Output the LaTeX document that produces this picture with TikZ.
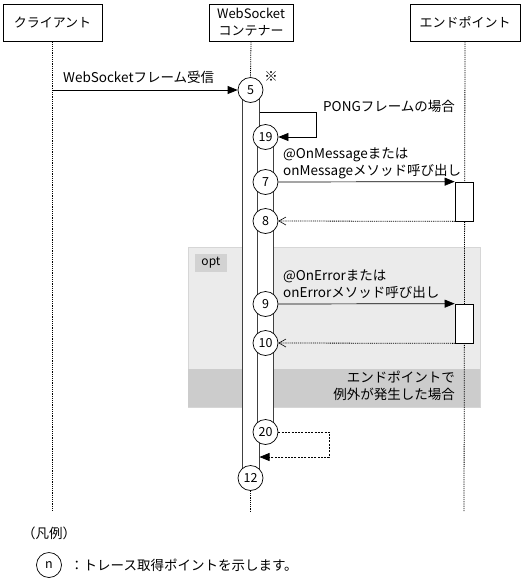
\documentclass[tikz,border=0pt]{standalone}
\usepackage{fontspec}
\setmainfont{Noto Sans CJK JP}
\usetikzlibrary{arrows.meta,calc}
\definecolor{optfill}{HTML}{EBEBEB}
\definecolor{optline}{HTML}{D6D6D6}
\definecolor{bandfill}{HTML}{CCCCCC}
\definecolor{optlab}{HTML}{D2D2D2}
\begin{document}
\begin{tikzpicture}[x=1pt,y=-1pt,
  every node/.style={font=\fontsize{13.5}{17}\selectfont, inner sep=0pt},
  head/.style={draw, line width=0.8pt, minimum height=37pt, align=center, font=\fontsize{13}{17}\selectfont},
  life/.style={line width=0.8pt, dash pattern=on 1.2pt off 1pt},
  msg/.style={line width=0.7pt, -{Triangle[length=10pt,width=8pt]}},
  ret/.style={line width=0.8pt, dash pattern=on 1pt off 0.9pt, -{Straight Barb[length=7pt,width=8pt,line width=0.6pt]}},
  dloop/.style={line width=0.7pt, dash pattern=on 2pt off 1.3pt, -{Triangle[length=10pt,width=8pt]}},
  bar/.style={draw=black!75, fill=white, line width=0.9pt},
  tp/.style={circle, draw, fill=white, line width=0.7pt, minimum size=25pt, inner sep=0pt, font=\fontsize{12.5}{13}\selectfont},
  act/.style={draw, fill=white, line width=0.7pt, minimum width=18pt}
]
\useasboundingbox (0,0) rectangle (523,579);

% header boxes
\node[head, minimum width=99pt] (cl) at (52.5,22.5) {クライアント};
\node[head, minimum width=84pt] (ws) at (251,22.5) {WebSocket\\コンテナー};
\node[head, minimum width=110pt] (ep) at (465,22.5) {エンドポイント};

% end coordinates of lifelines
\coordinate (clend) at (52.5,512);
\coordinate (wsend) at (250.5,512);
\coordinate (epend) at (464,512);

% opt frame
\filldraw[fill=optfill, draw=optline, line width=0.8pt] (188,247) rectangle (480,407);
\fill[bandfill] (188.4,369) rectangle (479.6,406.6);
\node[fill=optlab, minimum width=32pt, minimum height=18pt, font=\fontsize{12}{12}\selectfont] (optl) at (211,263) {opt};

% lifelines
\draw[life] (cl.south) -- (clend);
\draw[life] (ep.south) -- (epend);

% activation bars
\draw[bar] (242,90) rectangle (259.5,478);
\draw[bar] (257,137) rectangle (273.5,432);

% endpoint activations
\node[act, minimum height=39pt] (a1) at (464,201.5) {};
\node[act, minimum height=39pt] (a2) at (464,323.5) {};

% trace points
\node[tp] (c5) at (250.5,90) {5};
\node[tp] (c19) at (265.5,137) {19};
\node[tp] (c7) at (265.5,182) {7};
\node[tp] (c8) at (265.5,221) {8};
\node[tp] (c9) at (265.5,304) {9};
\node[tp] (c10) at (265.5,343) {10};
\node[tp] (c20) at (265.5,432) {20};
\node[tp] (c12) at (250.5,478) {12};

\draw[life] (ws.south) -- (c5.north);
\draw[life] (c12.south) -- (wsend);

% client -> container
\coordinate (cl5) at (52.5,90);
\draw[msg] (cl5) -- (c5.west);
\node[anchor=west] (l5) at (63,77) {WebSocketフレーム受信};
\node (mark) at (271,77) {※};

% PONG self call
\coordinate (p1) at (259.5,112);
\draw[msg] (p1) -- ++(56.5,0) |- (c19.east);
\node[anchor=west] (lp) at (323,106) {PONGフレームの場合};

% onMessage
\draw[msg] (c7.east) -- (a1.north west);
\node[anchor=west, align=left] (l7) at (283,163.5) {@OnMessageまたは\\onMessageメソッド呼び出し};
\draw[ret] (a1.south west) -- (c8.east);

% onError
\draw[msg] (c9.east) -- (a2.north west);
\node[anchor=west, align=left] (l9) at (283,284.5) {@OnErrorまたは\\onErrorメソッド呼び出し};
\draw[ret] (a2.south west) -- (c10.east);

\node[anchor=east, align=right] (lb) at (455,385.5) {エンドポイントで\\例外が発生した場合};

% self call 20
\coordinate (b20) at (259.5,457);
\draw[dloop] (c20.east) -- ++(51,0) |- (b20);

% legend
\node[anchor=west] (lg) at (22,533) {（凡例）};
\node[tp] (cn) at (49,565) {n};
\node[anchor=west] (lgt) at (70,565) {：トレース取得ポイントを示します。};
\end{tikzpicture}
\end{document}
